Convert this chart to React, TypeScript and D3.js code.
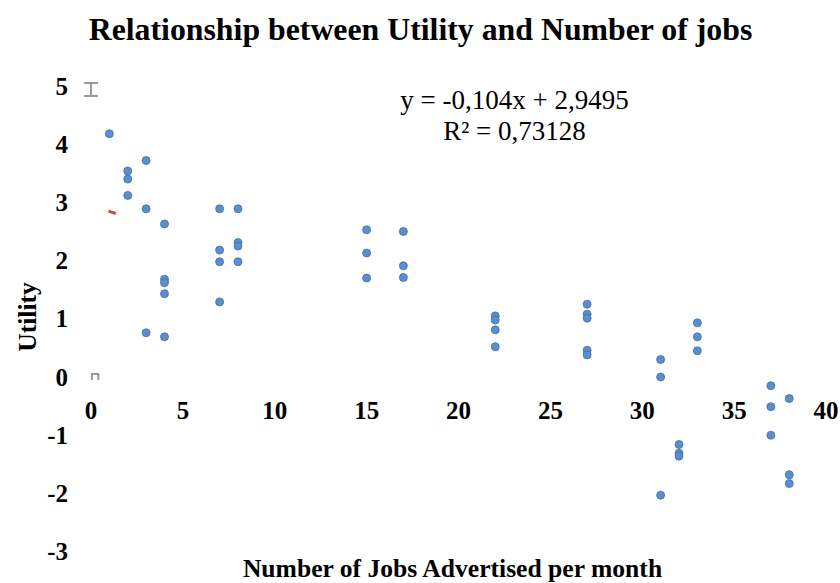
import React from "react";
import * as d3 from "d3";

const title = "Relationship between Utility and Number of jobs";
const xTitle = "Number of Jobs Advertised per month";
const yTitle = "Utility";
const equation = "y = -0,104x + 2,9495";
const rSquared = "R² = 0,73128";

const xTicks = [0, 5, 10, 15, 20, 25, 30, 35, 40];
const yTicks = [-3, -2, -1, 0, 1, 2, 3, 4, 5];

const jobs = [
  1, 2, 2, 2, 3, 3, 3, 4, 4, 4, 4, 4,
  7, 7, 7, 7, 8, 8, 8, 8,
  15, 15, 15, 17, 17, 17,
  22, 22, 22, 22, 27, 27, 27, 27, 27,
  31, 31, 31, 32, 32, 32, 33, 33, 33,
  37, 37, 37, 38, 38, 38,
];
const utility = [
  4.18, 3.54, 3.4, 3.12, 3.72, 2.89, 0.76, 2.63, 1.68, 1.62, 1.43, 0.69,
  2.89, 2.18, 1.98, 1.29, 2.89, 2.31, 2.25, 1.98,
  2.53, 2.13, 1.7, 2.5, 1.91, 1.71,
  1.05, 0.98, 0.81, 0.52, 1.25, 1.08, 1.01, 0.46, 0.38,
  0.3, 0.0, -2.03, -1.16, -1.31, -1.36, 0.93, 0.69, 0.45,
  -0.15, -0.51, -1.0, -0.37, -1.68, -1.83,
];

const slope = -0.104;
const intercept = 2.9495;
const trendRange = [0.95, 1.35];

export default function App() {
  const W = 840;
  const H = 583;
  const x = d3.scaleLinear().domain([0, 40]).range([91, 826]);
  const y = d3.scaleLinear().domain([-3, 5]).range([551.6, 86]);
  const font = "'Liberation Serif', 'Times New Roman', serif";
  const line = d3
    .line<number>()
    .x((d) => x(d))
    .y((d) => y(slope * d + intercept));

  const cx = x(0);
  const capTop = y(5) - 3;
  const capBot = y(5) + 10;

  return (
    <svg
      width={W}
      height={H}
      style={{ position: "absolute", left: 0, top: 0, background: "#fff" }}
      fontFamily={font}
    >
      <rect width={W} height={H} fill="#fff" />
      <text x={420.5} y={40} textAnchor="middle" fontSize={31.8} fontWeight="bold">
        {title}
      </text>

      {/* small gray marks */}
      <g stroke="#999" strokeWidth={2} fill="none">
        <line x1={cx} x2={cx} y1={capTop} y2={capBot} />
        <line x1={cx - 7} x2={cx + 7} y1={capTop} y2={capTop} />
        <line x1={cx - 7} x2={cx + 7} y1={capBot} y2={capBot} />
        <path d={`M${x(0.05)},${y(-0.05)} V${y(0.05)} H${x(0.4)} V${y(-0.05)}`} />
      </g>

      {yTicks.map((t) => (
        <text
          key={"y" + t}
          x={68}
          y={y(t) + 8.5}
          textAnchor="end"
          fontSize={25}
          fontWeight="bold"
        >
          {t}
        </text>
      ))}
      {xTicks.map((t) => (
        <text
          key={"x" + t}
          x={x(t)}
          y={y(0) + 42}
          textAnchor="middle"
          fontSize={25}
          fontWeight="bold"
        >
          {t}
        </text>
      ))}

      <path d={line(trendRange) || ""} stroke="#C0504D" strokeWidth={3} fill="none" />

      {jobs.map((j, i) => (
        <circle
          key={i}
          cx={x(j)}
          cy={y(utility[i])}
          r={4}
          fill="#5B8FCB"
          stroke="#3F6FA8"
          strokeWidth={0.8}
        />
      ))}

      <text x={514.5} y={109} textAnchor="middle" fontSize={27}>
        {equation}
      </text>
      <text x={514.5} y={140} textAnchor="middle" fontSize={27}>
        {rSquared}
      </text>

      <text x={452.5} y={577} textAnchor="middle" fontSize={25.6} fontWeight="bold">
        {xTitle}
      </text>
      <text
        transform={`translate(36,317) rotate(-90)`}
        textAnchor="middle"
        fontSize={25.6}
        fontWeight="bold"
      >
        {yTitle}
      </text>
    </svg>
  );
}
